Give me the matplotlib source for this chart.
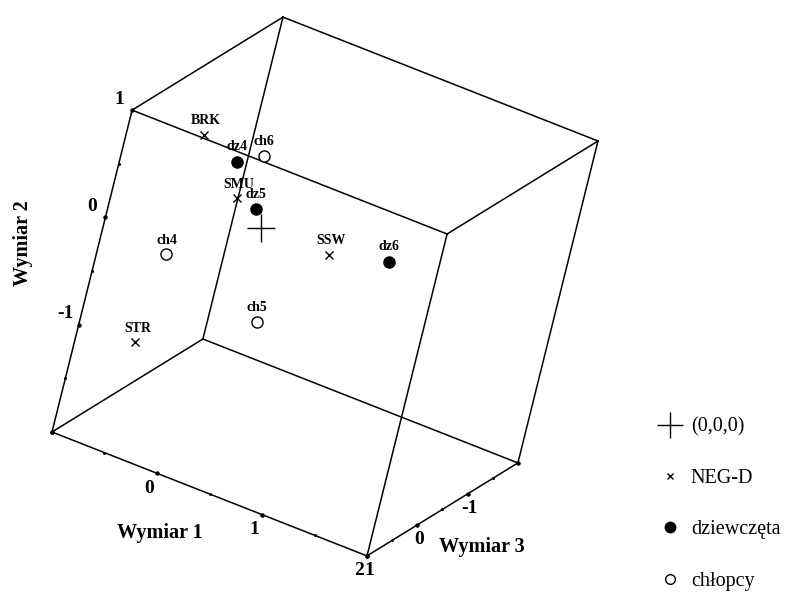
import numpy as np
import matplotlib.pyplot as plt
from matplotlib.lines import Line2D

plt.rcParams['font.family'] = ['Liberation Serif', 'DejaVu Serif']

# MDS solution, three dimensions (Wymiar 1, Wymiar 2, Wymiar 3)
neg_names = ['BRK', 'SMU', 'SSW', 'STR']
neg_w1 = [-0.69, -0.27, 0.65, -0.84]
neg_w2 = [0.60, 0.17, 0.00, -1.39]
neg_w3 = [0.0, 0.0, 0.0, 0.0]

girl_names = ['dz4', 'dz5', 'dz6']
girl_w1 = [-0.35, -0.08, 1.19]
girl_w2 = [0.48, 0.14, 0.14]
girl_w3 = [0.0, 0.0, 0.0]

boy_names = ['ch4', 'ch5', 'ch6']
boy_w1 = [-0.76, 0.17, -0.13]
boy_w2 = [-0.54, -0.81, 0.62]
boy_w3 = [0.0, 0.0, 0.0]

w1_range = [-1, 2]
w2_range = [-2, 1]
w3_range = [-2, 1]

w1_labels = [0, 1, 2]
w2_labels = [-1, 0, 1]
w3_labels = [-1, 0, 1]

# oblique projection of the cube onto the page (pixel units)
ORIGIN = np.array([260.7, 227.7])
E1 = np.array([105.0, 41.3])
E2 = np.array([26.7, -107.3])
E3 = np.array([-50.3, 31.0])


def proj(w1, w2, w3):
    w1, w2, w3 = np.asarray(w1, float), np.asarray(w2, float), np.asarray(w3, float)
    x = ORIGIN[0] + w1 * E1[0] + w2 * E2[0] + w3 * E3[0]
    y = ORIGIN[1] + w1 * E1[1] + w2 * E2[1] + w3 * E3[1]
    return x, y


fig = plt.figure(figsize=(7.9, 5.98), dpi=100)
ax = fig.add_axes([0, 0, 1, 1])
ax.set_xlim(0, 790)
ax.set_ylim(598, 0)
ax.axis('off')

# cube edges
a1, b1 = w1_range
a2, b2 = w2_range
a3, b3 = w3_range
for v2 in (a2, b2):
    for v3 in (a3, b3):
        x, y = proj([a1, b1], [v2, v2], [v3, v3])
        ax.plot(x, y, color='black', lw=1.1)
for v1 in (a1, b1):
    for v3 in (a3, b3):
        x, y = proj([v1, v1], [a2, b2], [v3, v3])
        ax.plot(x, y, color='black', lw=1.1)
for v1 in (a1, b1):
    for v2 in (a2, b2):
        x, y = proj([v1, v1], [v2, v2], [a3, b3])
        ax.plot(x, y, color='black', lw=1.1)

# tick dots on the three axes
t1 = np.arange(a1, b1 + 0.01, 0.5)
t2 = np.arange(a2, b2 + 0.01, 0.5)
t3 = np.arange(a3, b3 + 0.01, 0.5)
for ticks, axis_pts in [(t1, lambda t: proj(t, a2, b3)),
                        (t2, lambda t: proj(a1, t, b3)),
                        (t3, lambda t: proj(b1, a2, t))]:
    for t in ticks:
        x, y = axis_pts(t)
        ms = 3.2 if float(t).is_integer() else 2.2
        ax.plot(x, y, 'o', color='black', ms=ms, mew=0)

tick_kw = dict(fontsize=14, fontweight='bold', ha='center', va='center')
for t in w1_labels:
    x, y = proj(t, a2, b3)
    ax.text(x - 8, y + 15, str(t), **tick_kw)
for t in w2_labels:
    x, y = proj(a1, t, b3)
    ax.text(x - 13, y - 11, str(t), **tick_kw)
for t in w3_labels:
    x, y = proj(b1, a2, t)
    ax.text(x + 2, y + 15, str(t), **tick_kw)

title_kw = dict(fontsize=14.5, fontweight='bold', ha='center', va='center')
ax.text(160, 533, 'Wymiar 1', **title_kw)
ax.text(23, 243, 'Wymiar 2', rotation=90, **title_kw)
ax.text(482, 547, 'Wymiar 3', **title_kw)

# points
x, y = proj(0, 0, 0)
ax.plot(x, y, '+', color='black', ms=20, mew=1.0)

lab_kw = dict(fontsize=10, fontweight='bold', ha='center', va='center')

x, y = proj(neg_w1, neg_w2, neg_w3)
ax.plot(x, y, 'x', color='black', ms=5.5, mew=1.0, ls='none')
for n, xi, yi in zip(neg_names, x, y):
    ax.text(xi + 2, yi - 14, n, **lab_kw)

x, y = proj(girl_w1, girl_w2, girl_w3)
ax.plot(x, y, 'o', color='black', ms=8, ls='none')
for n, xi, yi in zip(girl_names, x, y):
    ax.text(xi, yi - 15, n, **lab_kw)

x, y = proj(boy_w1, boy_w2, boy_w3)
ax.plot(x, y, 'o', mfc='white', mec='black', ms=8, mew=1.0, ls='none')
for n, xi, yi in zip(boy_names, x, y):
    ax.text(xi, yi - 14, n, **lab_kw)

handles = [
    Line2D([], [], marker='+', color='black', ms=19, mew=1.0, ls='none'),
    Line2D([], [], marker='x', color='black', ms=5, mew=1.0, ls='none'),
    Line2D([], [], marker='o', color='black', ms=7.5, ls='none'),
    Line2D([], [], marker='o', mfc='white', mec='black', ms=7, mew=1.0, ls='none'),
]
labels = ['(0,0,0)', 'NEG-D', 'dziewczęta', 'chłopcy']
ax.legend(handles, labels, loc='upper left', bbox_to_anchor=(0.835, 0.302),
          frameon=False, fontsize=14.5, handlelength=1.0, handletextpad=0.55,
          labelspacing=1.6, borderpad=0, borderaxespad=0)

fig.savefig('out.png', dpi=100)
